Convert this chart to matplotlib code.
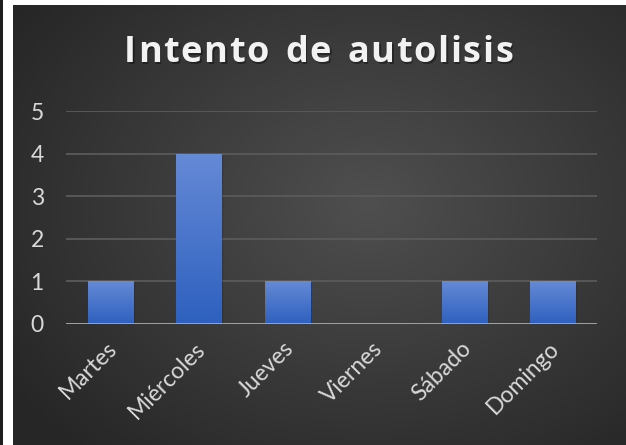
import numpy as np
import matplotlib.pyplot as plt
import matplotlib.transforms as mtransforms
from matplotlib.patches import Rectangle

# data
dias = ["Martes", "Miércoles", "Jueves", "Viernes", "Sábado", "Domingo"]
casos = [1, 4, 1, 0, 1, 1]
yticks = [0, 1, 2, 3, 4, 5]
titulo = "Intento de autolisis"

W, H = 626, 445
fig = plt.figure(figsize=(W / 100, H / 100), dpi=100, facecolor="white")

# left dark border line
fig.add_artist(Rectangle((0, 0), 2.5 / W, 1, transform=fig.transFigure,
                         facecolor="#1e1e1e", edgecolor="none"))

# chart background with radial gradient
bg = fig.add_axes([13 / W, 0, 1 - 13 / W, 1 - 5 / H])
bg.set_axis_off()
gx, gy = np.meshgrid(np.linspace(0, 1, 400), np.linspace(0, 1, 300))
r = np.sqrt(((gx - 0.58) / 0.75) ** 2 + ((gy - 0.45) / 0.8) ** 2)
shade = np.clip(0.31 - 0.17 * r, 0.15, 0.31)
bg.imshow(np.dstack([shade] * 3), extent=[0, 1, 0, 1], aspect="auto",
          origin="upper", zorder=0)
bg.set_xlim(0, 1)
bg.set_ylim(0, 1)

ax = fig.add_axes([66 / W, 1 - 324 / H, (597 - 66) / W, (324 - 111) / H])
ax.patch.set_alpha(0)
x = np.arange(len(dias))
ax.set_xlim(-0.5, len(dias) - 0.5)
ax.set_ylim(0, 5)

bars = ax.bar(x, casos, width=0.51, color="none", edgecolor="none", zorder=3)
grad = np.linspace(0, 1, 256).reshape(-1, 1)
blue = np.array([[0x65, 0x8a, 0xd6]]) / 255 * (1 - grad) + np.array([[0x2e, 0x60, 0xbf]]) / 255 * grad
blue = blue.reshape(256, 1, 3)
for b in bars:
    if b.get_height() == 0:
        continue
    bx, bw, bh = b.get_x(), b.get_width(), b.get_height()
    # soft shadow
    for k, a in enumerate([0.10, 0.07, 0.04]):
        ax.add_patch(Rectangle((bx + 0.01 * (k + 1), -0.02 * (k + 1)), bw, bh,
                               facecolor="black", alpha=a, edgecolor="none", zorder=2))
    im = ax.imshow(blue, extent=[bx, bx + bw, 0, bh], aspect="auto",
                   origin="upper", zorder=3)
    im.set_clip_path(b)

ax.set_yticks(yticks)
ax.grid(axis="y", color="#5a5a5a", linewidth=1.3, zorder=1)
ax.axhline(0, color="#a8a8a8", linewidth=2.0, zorder=4)
for s in ax.spines.values():
    s.set_visible(False)
ax.tick_params(length=0)
ax.tick_params(axis="y", pad=16, labelsize=16.5, labelcolor="#d9d9d9")
ax.set_xticks(x)
ax.set_xticklabels(dias, rotation=45, ha="right", rotation_mode="anchor",
                   fontsize=16.5, color="#d9d9d9", family="Lato")
for t in ax.get_yticklabels():
    t.set_family("Lato")
ax.tick_params(axis="x", pad=10)
shift = mtransforms.ScaledTranslation(-4 / 100, 0, fig.dpi_scale_trans)
for t in ax.get_xticklabels():
    t.set_transform(t.get_transform() + shift)

# title with letter spacing
renderer = fig.canvas.get_renderer()
fs = 26
spacing = 1.6
widths = []
for ch in titulo:
    t = fig.text(0, 0, ch if ch != " " else "n", fontsize=fs, family="Open Sans",
                 weight="bold")
    w = t.get_window_extent(renderer).width
    widths.append(w * (0.55 if ch == " " else 1))
    t.remove()
total = sum(widths) + spacing * (len(titulo) - 1)
cx, cy = 318.5, H - 53
px = cx - total / 2
for ch, w in zip(titulo, widths):
    if ch != " ":
        fig.text((px + 1.5) / W, (cy - 1.5) / H, ch, fontsize=fs, family="Open Sans",
                 weight="bold", color="black", alpha=0.35, va="center", ha="left")
        fig.text(px / W, cy / H, ch, fontsize=fs, family="Open Sans",
                 weight="bold", color="#f2f2f2", va="center", ha="left")
    px += w + spacing

fig.savefig("out.png", dpi=100, facecolor="white")
